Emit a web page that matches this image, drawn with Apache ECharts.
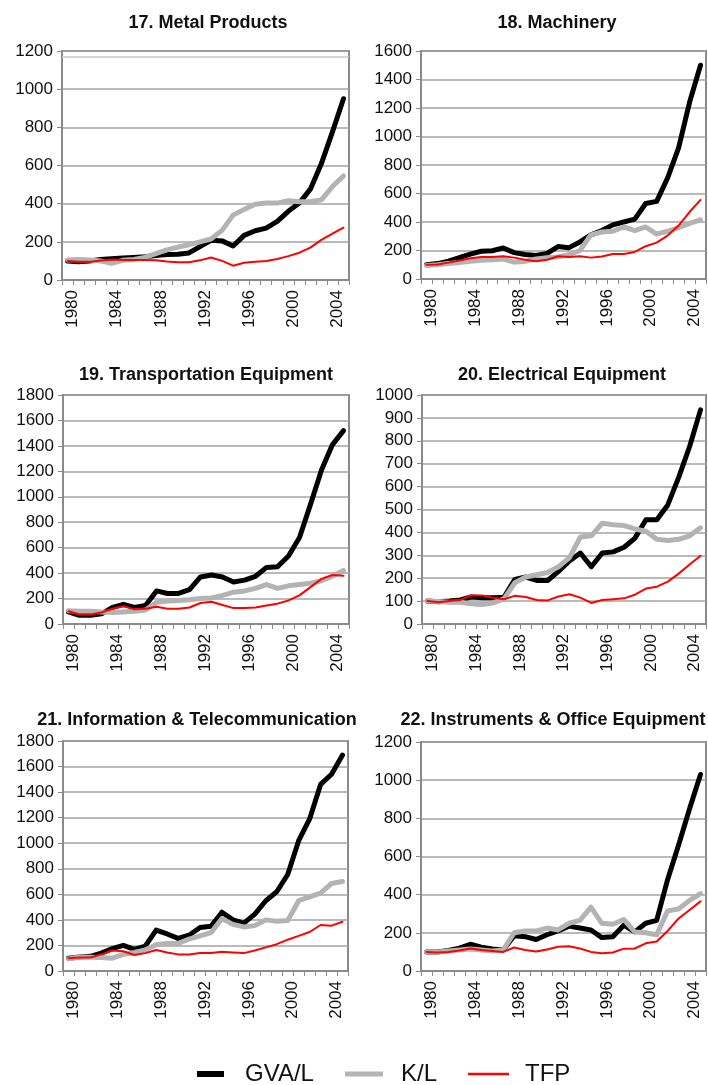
<!DOCTYPE html>
<html>
<head>
<meta charset="utf-8">
<script src="https://cdn.jsdelivr.net/npm/echarts@6/dist/echarts.min.js"></script>
<style>
html,body{margin:0;padding:0;background:#fff;}
#chart{width:708px;height:1085px;}
</style>
</head>
<body>
<div id="chart"></div>
<script>
// ---- data ----
const years = ['1980','1981','1982','1983','1984','1985','1986','1987','1988','1989','1990','1991','1992','1993','1994','1995','1996','1997','1998','1999','2000','2001','2002','2003','2004','2005'];
const seriesNames = ['GVA/L', 'K/L', 'TFP'];
const panelTitles = ['17. Metal Products', '18. Machinery', '19. Transportation Equipment', '20. Electrical Equipment', '21. Information & Telecommunication', '22. Instruments & Office Equipment'];
const yMax = [1200, 1600, 1800, 1000, 1800, 1200];
const yStep = [200, 200, 200, 100, 200, 200];

const metalGVA = [100,95,100,108,112,115,118,122,128,133,135,142,175,208,205,178,234,258,272,307,360,403,476,610,776,950];
const metalKL  = [105,108,105,100,88,103,108,118,138,158,172,185,200,215,260,340,370,397,403,403,415,410,410,420,490,545];
const metalTFP = [100,95,95,102,108,105,105,105,103,97,93,93,103,118,100,75,90,95,100,110,125,143,170,210,243,275];
const metalRefLine = 1170;

const machGVA = [100,108,125,150,175,195,198,218,185,172,165,180,228,220,260,310,340,380,400,420,530,545,710,920,1240,1500];
const machKL  = [95,100,108,115,125,132,135,140,118,125,140,150,155,170,200,310,330,335,365,340,365,315,335,360,390,415];
const machTFP = [100,102,115,130,145,155,155,160,150,135,125,135,160,155,160,150,158,175,175,190,230,255,305,375,470,555];

const transGVA = [95,68,68,80,130,155,130,145,260,240,240,270,370,385,370,330,345,375,445,450,535,680,940,1210,1410,1520];
const transKL  = [105,100,100,95,90,95,100,110,170,180,185,190,200,205,225,250,260,280,310,280,300,310,320,340,375,420];
const transTFP = [100,75,75,90,120,140,115,120,135,120,120,130,165,175,150,125,125,130,145,160,185,225,290,355,385,380];

const elecGVA = [100,97,100,105,118,115,115,117,195,205,190,190,230,275,310,250,310,315,335,375,455,455,520,640,775,935];
const elecKL  = [100,98,95,95,88,85,92,110,180,205,215,225,250,290,380,385,440,433,430,415,405,370,365,370,385,420];
const elecTFP = [100,95,100,105,125,125,115,108,123,118,105,103,120,130,115,92,105,108,112,128,155,163,185,220,260,298];

const infoGVA = [100,110,115,140,175,200,170,195,320,290,255,280,340,350,460,400,375,445,550,620,755,1020,1190,1460,1540,1690];
const infoKL  = [95,110,108,105,100,130,145,165,205,215,215,250,275,300,410,365,345,355,400,390,395,550,580,610,685,700];
const infoTFP = [100,105,105,130,160,155,125,140,165,145,130,130,140,140,150,145,140,160,185,210,245,275,305,360,355,385];

const instGVA = [100,100,108,120,140,125,115,110,185,180,165,190,210,235,225,215,175,180,240,205,250,265,480,660,850,1030];
const instKL  = [100,100,105,110,115,110,105,110,200,210,210,225,215,250,265,335,250,245,270,205,200,190,315,325,370,405];
const instTFP = [100,97,100,108,118,110,105,100,123,110,102,113,127,130,118,100,93,97,117,118,145,155,210,275,320,365];

const panelData = [
  [metalGVA, metalKL, metalTFP],
  [machGVA, machKL, machTFP],
  [transGVA, transKL, transTFP],
  [elecGVA, elecKL, elecTFP],
  [infoGVA, infoKL, infoTFP],
  [instGVA, instKL, instTFP]
];

// ---- layout / style ----
const grids = [
  {left: 62, top: 51, width: 287, height: 229},
  {left: 421, top: 51, width: 285, height: 228},
  {left: 63, top: 395, width: 286, height: 229},
  {left: 422, top: 395, width: 284, height: 229},
  {left: 63, top: 741, width: 285, height: 230},
  {left: 421, top: 742, width: 285, height: 229}
];
const titlePos = [[208, 23], [557, 23], [206, 375], [562, 375], [197, 720], [553, 720]];
const colors = ['#000000', '#b3b3b3', '#ff0000'];
const widths = [5, 5, 2];
const FONT = 'Liberation Sans';
const frameColor = '#8a8a8a';

const option = {
  animation: false,
  grid: grids.map(g => Object.assign({show: true, borderColor: frameColor, borderWidth: 2, backgroundColor: 'transparent'}, g)),
  xAxis: grids.map((g, i) => ({
    type: 'category', gridIndex: i, data: years, boundaryGap: true,
    axisLine: {lineStyle: {color: frameColor, width: 2}},
    axisTick: {show: true, interval: 0, length: 5, lineStyle: {color: frameColor, width: 1}},
    axisLabel: {interval: 3, rotate: 90, fontSize: 17, fontFamily: FONT, color: '#111', margin: 10,
                verticalAlign: 'top', lineHeight: 10},
    splitLine: {show: false}
  })),
  yAxis: grids.map((g, i) => ({
    type: 'value', gridIndex: i, min: 0, max: yMax[i], interval: yStep[i],
    axisLine: {show: true, lineStyle: {color: frameColor, width: 2}},
    axisTick: {show: true, length: 5, lineStyle: {color: frameColor, width: 1}},
    axisLabel: {fontSize: 17, fontFamily: FONT, color: '#111', margin: 9, formatter: v => String(v)},
    splitLine: {show: true, lineStyle: {color: '#a3a3a3', width: 1.5}}
  })),
  graphic: panelTitles.map((t, i) => ({
    type: 'text', x: titlePos[i][0], y: titlePos[i][1], silent: true,
    style: {text: t, fontSize: 18, fontWeight: 'bold', fontFamily: FONT, fill: '#111', align: 'center', verticalAlign: 'middle'}
  })),
  legend: [
    {data: [seriesNames[0]], left: 197, top: 1062, padding: 0, icon: 'rect', itemWidth: 27, itemHeight: 6,
     textStyle: {fontSize: 24, fontFamily: FONT, color: '#111', padding: [0, 0, 0, 16]}},
    {data: [seriesNames[1]], left: 345, top: 1062, padding: 0, icon: 'rect', itemWidth: 38, itemHeight: 5,
     textStyle: {fontSize: 24, fontFamily: FONT, color: '#111', padding: [0, 0, 0, 13]}},
    {data: [seriesNames[2]], left: 468, top: 1062, padding: 0, icon: 'rect', itemWidth: 41, itemHeight: 2.5,
     textStyle: {fontSize: 24, fontFamily: FONT, color: '#111', padding: [0, 0, 0, 11]}}
  ],
  series: []
};

panelData.forEach((arrs, p) => {
  arrs.forEach((vals, k) => {
    const s = {
      name: seriesNames[k], type: 'line', xAxisIndex: p, yAxisIndex: p,
      data: vals, symbol: 'none', smooth: false, z: 2 + k,
      color: colors[k], itemStyle: {color: colors[k]},
      lineStyle: {color: colors[k], width: widths[k], join: 'round', cap: 'round'}
    };
    if (p === 0 && k === 1) {
      s.markLine = {silent: true, symbol: 'none', label: {show: false},
        lineStyle: {color: '#c8c8c8', width: 1.5, type: 'solid'},
        data: [{yAxis: metalRefLine}]};
    }
    option.series.push(s);
  });
});

const chart = echarts.init(document.getElementById('chart'), null, {renderer: 'canvas'});
chart.setOption(option);
</script>
</body>
</html>
